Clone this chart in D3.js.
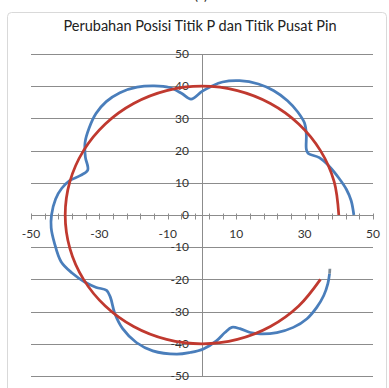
<!DOCTYPE html>
<html>
<head>
<meta charset="utf-8">
<script src="https://cdn.jsdelivr.net/npm/d3@7"></script>
<style>
  html, body { margin: 0; padding: 0; background: #ffffff; }
  svg { display: block; }
  text { font-family: Lato, "Open Sans", sans-serif; }
</style>
</head>
<body>
<svg id="chart" width="389" height="388"></svg>
<script>
// Path traced by point P (counter-clockwise from the +x axis)
const pathPX = [44.4, 43.6, 42.2, 40.0, 37.3, 34.3, 31.0, 30.5, 30.5, 30.0, 28.0, 25.0, 21.0, 16.5, 11.0, 6.0, 2.8, 0.0,
  -3.2, -6.0, -9.5, -14.0, -19.0, -24.0, -28.0, -31.0, -33.0, -34.2, -34.1, -33.4, -35.5, -38.7, -41.0, -42.8, -44.0,
  -44.1, -43.2, -41.2, -38.0, -34.3, -30.9, -27.9, -26.8, -25.5, -23.2, -19.2, -14.4, -7.4, -3.5, 0.4, 4.3, 6.7, 8.7,
  11.1, 14.1, 17.0, 21.9, 26.7, 30.7, 33.6, 35.6, 36.8, 37.3];
const pathPY = [0.0, 4.5, 8.0, 11.5, 15.0, 17.8, 19.2, 20.5, 25.0, 28.5, 32.0, 35.5, 38.6, 40.7, 41.7, 41.3, 40.0, 38.4,
  36.0, 37.8, 39.6, 40.1, 39.7, 38.0, 35.2, 31.5, 27.0, 22.5, 18.0, 14.0, 12.3, 10.7, 8.3, 5.0, 0.0,
  -4.0, -8.5, -14.5, -18.0, -20.8, -22.5, -23.4, -25.5, -30.6, -35.3, -39.6, -42.2, -43.2, -42.7, -41.6, -39.0, -36.5, -34.9,
  -35.3, -36.5, -36.9, -36.5, -34.9, -32.2, -28.6, -25.0, -21.3, -18.2];
// Short closing stretch of the P path
const tipX = [37.3, 37.4];
const tipY = [-18.2, -16.7];

// Pin centre path, radius 40 about the origin
const pinX = [40.0, 38.64, 34.64, 28.28, 20.0, 10.35, 0.0, -10.35, -20.0, -28.28, -34.64, -38.64,
  -40.0, -38.64, -34.64, -28.28, -20.0, -10.35, 0.0, 10.35, 20.0, 28.28, 34.64];
const pinY = [0.0, 10.35, 20.0, 28.28, 34.64, 38.64, 40.0, 38.64, 34.64, 28.28, 20.0, 10.35,
  0.0, -10.35, -20.0, -28.28, -34.64, -38.64, -40.0, -38.64, -34.64, -28.28, -20.0];

const xLabels = [-50, -30, -10, 10, 30, 50];
const yLabels = [-50, -40, -30, -20, -10, 0, 10, 20, 30, 40, 50];
const xMinorTicks = d3.range(-50, 51, 4);

const titleText = "Perubahan Posisi Titik P dan Titik Pusat Pin";

const svg = d3.select("#chart");

const x = d3.scaleLinear().domain([-50, 50]).range([31, 373]);
const y = d3.scaleLinear().domain([-50, 50]).range([376, 54]);

// caption above the chart frame (runs off the top edge)
svg.append("text")
  .attr("x", 201).attr("y", 0)
  .attr("text-anchor", "middle")
  .attr("font-size", 14)
  .attr("fill", "#333")
  .text("(c)");

// chart frame
svg.append("rect")
  .attr("x", 7.5).attr("y", 12.5)
  .attr("width", 379).attr("height", 382)
  .attr("rx", 4)
  .attr("fill", "#ffffff")
  .attr("stroke", "#d9d9d9");

// title
svg.append("text")
  .attr("x", 200).attr("y", 31)
  .attr("text-anchor", "middle")
  .attr("font-size", 14.5)
  .attr("fill", "#222")
  .text(titleText);

// horizontal gridlines
svg.append("g")
  .selectAll("line")
  .data(yLabels.filter(v => v !== 0))
  .join("line")
  .attr("x1", x(-50)).attr("x2", x(50))
  .attr("y1", d => Math.round(y(d)) + 0.5).attr("y2", d => Math.round(y(d)) + 0.5)
  .attr("stroke", "#8c8c8c")
  .attr("stroke-width", 1);

// vertical axis line
svg.append("line")
  .attr("x1", Math.round(x(0)) + 0.5).attr("x2", Math.round(x(0)) + 0.5)
  .attr("y1", y(50)).attr("y2", y(-50))
  .attr("stroke", "#8c8c8c");

// horizontal axis with cross ticks
const xAxisY = Math.round(y(0)) + 0.5;
svg.append("line")
  .attr("x1", x(-50)).attr("x2", x(50))
  .attr("y1", xAxisY).attr("y2", xAxisY)
  .attr("stroke", "#8c8c8c");
svg.append("g")
  .selectAll("line")
  .data(xMinorTicks)
  .join("line")
  .attr("x1", d => Math.round(x(d)) + 0.5).attr("x2", d => Math.round(x(d)) + 0.5)
  .attr("y1", xAxisY - 2).attr("y2", xAxisY + 4)
  .attr("stroke", "#8c8c8c");

// tick labels
svg.append("g")
  .selectAll("text")
  .data(xLabels)
  .join("text")
  .attr("x", d => x(d))
  .attr("y", xAxisY + 22)
  .attr("text-anchor", "middle")
  .attr("font-size", 12)
  .attr("fill", "#333")
  .text(d => d);

svg.append("g")
  .selectAll("text")
  .data(yLabels)
  .join("text")
  .attr("x", 189)
  .attr("y", d => y(d))
  .attr("dy", "0.35em")
  .attr("text-anchor", "end")
  .attr("font-size", 12)
  .attr("fill", "#333")
  .text(d => d);

const line = d3.line()
  .x(d => x(d[0]))
  .y(d => y(d[1]))
  .curve(d3.curveCatmullRom.alpha(0.5));

// path of point P
svg.append("path")
  .datum(pathPX.map((v, i) => [v, pathPY[i]]))
  .attr("d", line)
  .attr("fill", "none")
  .attr("stroke", "#4a7ebb")
  .attr("stroke-width", 2.75)
  .attr("stroke-linejoin", "round");

svg.append("path")
  .datum(tipX.map((v, i) => [v, tipY[i]]))
  .attr("d", line)
  .attr("fill", "none")
  .attr("stroke", "#7f8a94")
  .attr("stroke-width", 2.75);

// path of the pin centre
svg.append("path")
  .datum(pinX.map((v, i) => [v, pinY[i]]))
  .attr("d", line)
  .attr("fill", "none")
  .attr("stroke", "#c0392f")
  .attr("stroke-width", 2.75)
  .attr("stroke-linejoin", "round");
</script>
</body>
</html>
